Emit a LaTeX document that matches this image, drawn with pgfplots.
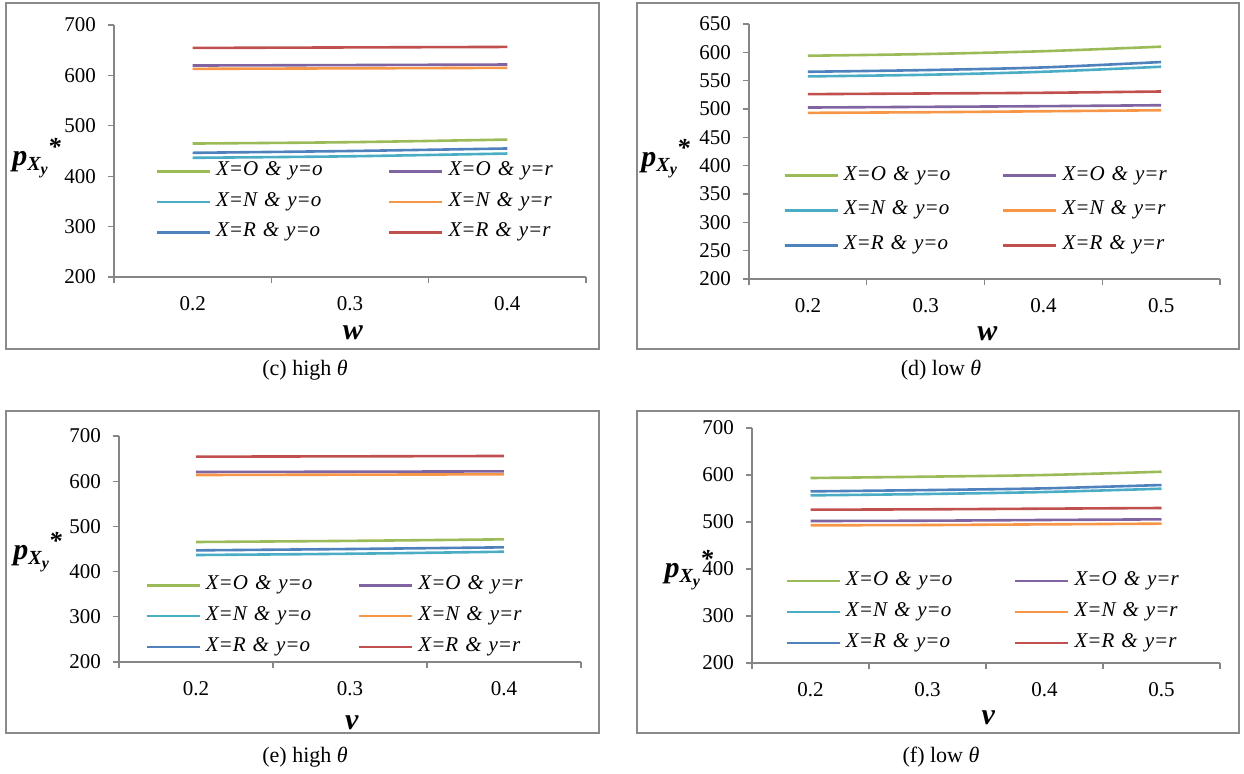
\documentclass[border=0pt]{standalone}
\usepackage{pgfplots}
\pgfplotsset{compat=1.18}
\usepackage{fontspec}
\setmainfont{Liberation Serif}
\definecolor{cgreen}{HTML}{9BBB59}
\definecolor{cpurple}{HTML}{8064A2}
\definecolor{caqua}{HTML}{4BACC6}
\definecolor{corange}{HTML}{F79646}
\definecolor{cblue}{HTML}{4F81BD}
\definecolor{cred}{HTML}{C0504D}
\definecolor{axgray}{HTML}{868686}
\definecolor{framegray}{HTML}{8A8A8A}
\newcommand{\plab}{\fontsize{15}{15}\selectfont\bfseries\itshape p\raisebox{-0.35ex}{\fontsize{10}{10}\selectfont X\raisebox{-0.4ex}{\fontsize{8}{8}\selectfont y}}\raisebox{0.75ex}{\fontsize{13}{13}\selectfont *}}
\newcommand{\alab}[1]{\fontsize{15}{15}\selectfont\bfseries\itshape #1}
\pgfplotsset{panel/.style={
  scale only axis, anchor=south west,
  axis x line=bottom, axis y line=left,
  axis line style={draw=axgray, line width=0.6pt, -},
  xmin=-0.5, ymin=200,
  major x tick style={draw=none},
  tick style={draw=axgray, line width=0.6pt},
  tick align=outside, major tick length=3pt, minor tick length=3pt,
  ticklabel style={font=\fontsize{10.5}{12}\selectfont},
  xticklabel style={yshift=-3pt},
  yticklabel style={xshift=-2.5pt},
  /pgf/number format/assume math mode=true,
  no markers,
  every axis plot/.append style={line width=1.3pt, smooth},
  legend columns=2, legend cell align=left,
  legend image code/.code={\draw[##1, line width=1.3pt] (0pt,0pt) -- (26.5pt,0pt);},
  legend style={draw=none, fill=none, inner sep=0pt, column sep=0pt,
    font=\fontsize{10.5}{12}\selectfont\itshape,
    nodes={inner xsep=2.5pt, inner ysep=0pt, text height=7pt, text depth=2.5pt, align=left}},
  xlabel style={anchor=center},
  ylabel style={rotate=-90, anchor=center},
  clip=false,
}}
\begin{document}
\begin{tikzpicture}[x=1pt,y=1pt]
\draw[framegray, line width=0.9pt] (3,212) rectangle (299.5,385);
\draw[framegray, line width=0.9pt] (318.5,212) rectangle (619.5,385);
\draw[framegray, line width=0.9pt] (3,20) rectangle (299.5,181);
\draw[framegray, line width=0.9pt] (318.5,20) rectangle (619.5,181);
\node[font=\fontsize{11}{13}\selectfont] at (152.5,201.5) {(c) high \textit{θ}};
\node[font=\fontsize{11}{13}\selectfont] at (470.5,201.5) {(d) low \textit{θ}};
\node[font=\fontsize{11}{13}\selectfont] at (152.5,8) {(e) high \textit{θ}};
\node[font=\fontsize{11}{13}\selectfont] at (470.5,8) {(f) low \textit{θ}};

% (c)
\begin{axis}[panel, at={(57pt,248pt)}, width=236pt, height=126pt,
  xmax=2.5, ymax=700, ytick distance=100,
  xtick={0,1,2}, xticklabels={0.2,0.3,0.4}, minor xtick={-0.5,0.5,1.5,2.5},
  xlabel={\alab{w}}, xlabel style={at={(axis description cs:0.506,-0.222)}},
  ylabel={\plab}, ylabel style={at={(axis description cs:-0.164,0.472)}},
  legend style={at={(axis description cs:0.087,0.298)}, anchor=west, row sep=5.75pt, nodes={text width=83.5pt}}]
\addplot[cgreen] coordinates {(0,464.8) (1,467.5) (2,472.7)};
\addlegendentry{X=O \& y=o}
\addplot[cpurple] coordinates {(0,619.6) (1,620.5) (2,621.6)};
\addlegendentry{X=O \& y=r}
\addplot[caqua] coordinates {(0,436.5) (1,439.5) (2,445)};
\addlegendentry{X=N \& y=o}
\addplot[corange] coordinates {(0,613) (1,614) (2,615)};
\addlegendentry{X=N \& y=r}
\addplot[cblue] coordinates {(0,446.4) (1,450) (2,455)};
\addlegendentry{X=R \& y=o}
\addplot[cred] coordinates {(0,654.5) (1,655.5) (2,656.5)};
\addlegendentry{X=R \& y=r}
\end{axis}

% (d)
\begin{axis}[panel, at={(374.5pt,247pt)}, width=235.5pt, height=127.5pt,
  xmax=3.5, ymax=650, ytick distance=50,
  xtick={0,1,2,3}, xticklabels={0.2,0.3,0.4,0.5}, minor xtick={-0.5,0.5,1.5,2.5,3.5},
  xlabel={\alab{w}}, xlabel style={at={(axis description cs:0.506,-0.216)}},
  ylabel={\plab}, ylabel style={at={(axis description cs:-0.177,0.472)}},
  legend style={at={(axis description cs:0.072,0.269)}, anchor=west, row sep=7.9pt, nodes={text width=76.5pt}}]
\addplot[cgreen] coordinates {(0,594) (1,597) (2,602) (3,610)};
\addlegendentry{X=O \& y=o}
\addplot[cpurple] coordinates {(0,502.6) (1,503.8) (2,505) (3,506.7)};
\addlegendentry{X=O \& y=r}
\addplot[caqua] coordinates {(0,557.5) (1,560.4) (2,565.7) (3,574.6)};
\addlegendentry{X=N \& y=o}
\addplot[corange] coordinates {(0,493.2) (1,494.3) (2,496) (3,497.8)};
\addlegendentry{X=N \& y=r}
\addplot[cblue] coordinates {(0,565.7) (1,568.7) (2,573.4) (3,582.9)};
\addlegendentry{X=R \& y=o}
\addplot[cred] coordinates {(0,526.2) (1,527.4) (2,528.6) (3,530.9)};
\addlegendentry{X=R \& y=r}
\end{axis}

% (e)
\begin{axis}[panel, at={(59.5pt,55.5pt)}, width=231pt, height=113pt,
  xmax=2.5, ymax=700, ytick distance=100,
  xtick={0,1,2}, xticklabels={0.2,0.3,0.4}, minor xtick={-0.5,0.5,1.5,2.5},
  xlabel={\alab{v}}, xlabel style={at={(axis description cs:0.504,-0.269)}},
  ylabel={\plab}, ylabel style={at={(axis description cs:-0.176,0.488)}},
  legend style={at={(axis description cs:0.056,0.2035)}, anchor=west, row sep=5.9pt, nodes={text width=73.5pt}}]
\addplot[cgreen] coordinates {(0,465.5) (1,468) (2,471.4)};
\addlegendentry{X=O \& y=o}
\addplot[cpurple] coordinates {(0,620.4) (1,621) (2,621.8)};
\addlegendentry{X=O \& y=r}
\addplot[caqua] coordinates {(0,436.7) (1,439.5) (2,444)};
\addlegendentry{X=N \& y=o}
\addplot[corange] coordinates {(0,613.7) (1,614.5) (2,615.2)};
\addlegendentry{X=N \& y=r}
\addplot[cblue] coordinates {(0,447) (1,450) (2,453.7)};
\addlegendentry{X=R \& y=o}
\addplot[cred] coordinates {(0,654.3) (1,655) (2,655.8)};
\addlegendentry{X=R \& y=r}
\end{axis}

% (f)
\begin{axis}[panel, at={(376pt,55pt)}, width=234pt, height=117.5pt,
  xmax=3.5, ymax=700, ytick distance=100,
  xtick={0,1,2,3}, xticklabels={0.2,0.3,0.4,0.5}, minor xtick={-0.5,0.5,1.5,2.5,3.5},
  xlabel={\alab{v}}, xlabel style={at={(axis description cs:0.505,-0.234)}},
  ylabel={\plab}, ylabel style={at={(axis description cs:-0.135,0.397)}},
  legend style={at={(axis description cs:0.0705,0.2175)}, anchor=west, row sep=6pt, nodes={text width=81.5pt}}]
\addplot[cgreen] coordinates {(0,593.6) (1,596.5) (2,600) (3,607)};
\addlegendentry{X=O \& y=o}
\addplot[cpurple] coordinates {(0,502.1) (1,502.8) (2,504.3) (3,505.7)};
\addlegendentry{X=O \& y=r}
\addplot[caqua] coordinates {(0,556.7) (1,559.6) (2,563.8) (3,570.9)};
\addlegendentry{X=N \& y=o}
\addplot[corange] coordinates {(0,493) (1,493.6) (2,495) (3,496.5)};
\addlegendentry{X=N \& y=r}
\addplot[cblue] coordinates {(0,565.2) (1,568) (2,571.6) (3,578.7)};
\addlegendentry{X=R \& y=o}
\addplot[cred] coordinates {(0,526.2) (1,527) (2,528.4) (3,529.8)};
\addlegendentry{X=R \& y=r}
\end{axis}
\pgfresetboundingbox
\path[use as bounding box] (0,0) rectangle (622,386.5);
\end{tikzpicture}
\end{document}
